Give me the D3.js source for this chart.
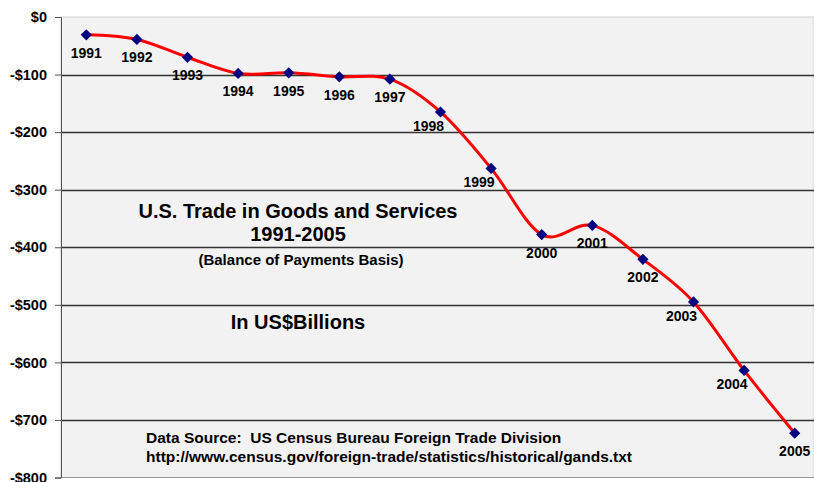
<!DOCTYPE html>
<html>
<head>
<meta charset="utf-8">
<script src="https://cdn.jsdelivr.net/npm/d3@7"></script>
<style>
  body { margin: 0; background: #fff; }
  svg { display: block; font-family: "Liberation Sans", Arial, sans-serif; font-weight: bold; }
</style>
</head>
<body>
<svg width="814" height="482"></svg>
<script>
const years = [1991, 1992, 1993, 1994, 1995, 1996, 1997, 1998, 1999, 2000, 2001, 2002, 2003, 2004, 2005]
const balance = [-31, -39, -70, -98, -97, -104, -108, -165, -263, -378, -362, -421, -495, -614, -723]
const yTicks = [0, -100, -200, -300, -400, -500, -600, -700, -800]
const titleLines = ["U.S. Trade in Goods and Services", "1991-2005"]
const subTitle = "(Balance of Payments Basis)"
const unitsText = "In US$Billions"
const sourceLines = ["Data Source:  US Census Bureau Foreign Trade Division",
  "http://www.census.gov/foreign-trade/statistics/historical/gands.txt"]

const data = years.map((y, i) => ({ year: y, value: balance[i] }))

const svg = d3.select("svg")
const plotLeft = 61, plotRight = 820, plotTop = 17, plotBottom = 477.5

const x = d3.scalePoint()
  .domain(years)
  .range([plotLeft, plotRight])
  .padding(0.5)

const y = d3.scaleLinear()
  .domain([-800, 0])
  .range([plotBottom, plotTop])

// plot area
svg.append("rect")
  .attr("x", plotLeft).attr("y", plotTop)
  .attr("width", 814 - plotLeft).attr("height", plotBottom - plotTop)
  .attr("fill", "#f2f2f2")
  .attr("stroke", "#cfcfcf")

// gridlines
svg.append("g")
  .selectAll("line")
  .data(yTicks.filter(d => d != 0 && d != -800))
  .enter()
  .append("line")
  .attr("x1", plotLeft).attr("x2", 814)
  .attr("y1", d => Math.round(y(d)) + 0.5)
  .attr("y2", d => Math.round(y(d)) + 0.5)
  .attr("stroke", "#333")
  .attr("stroke-width", 1.3)

svg.append("line")
  .attr("x1", plotLeft).attr("x2", 814)
  .attr("y1", plotBottom).attr("y2", plotBottom)
  .attr("stroke", "#999")

// y axis
const yAxis = d3.axisLeft(y)
  .tickValues(yTicks)
  .tickSize(6)
  .tickPadding(8)
  .tickFormat(d => d < 0 ? "-$" + Math.abs(d) : "$" + d)

const yg = svg.append("g")
  .attr("transform", `translate(${plotLeft},0)`)
  .call(yAxis)
yg.select(".domain").attr("stroke", "#555")
yg.selectAll(".tick line").attr("stroke", "#555")
yg.selectAll("text")
  .attr("fill", "#000")
  .style("font-size", "14.5px")
  .style("font-weight", "bold")
  .style("font-family", "'Liberation Sans', Arial, sans-serif")

// smoothed line
const line = d3.line()
  .x(d => x(d.year))
  .y(d => y(d.value))
  .curve(d3.curveCardinal.tension(0))

svg.append("path")
  .datum(data)
  .attr("d", line)
  .attr("fill", "none")
  .attr("stroke", "#ff0000")
  .attr("stroke-width", 3)

// diamond markers
svg.append("g")
  .selectAll("path")
  .data(data)
  .enter()
  .append("path")
  .attr("d", d3.symbol(d3.symbolDiamond2, 80))
  .attr("transform", d => `translate(${x(d.year)},${y(d.value)})`)
  .attr("fill", "#000080")

// year labels: below the marker, shifted left where the line drops steeply
svg.append("g")
  .selectAll("text")
  .data(data)
  .enter()
  .append("text")
  .attr("x", (d, i) => {
    const next = data[i + 1]
    return x(d.year) + (next && d.value - next.value > 90 ? -12 : 0)
  })
  .attr("y", (d, i) => {
    const next = data[i + 1]
    return y(d.value) + (next && d.value - next.value > 90 ? 19 : 23)
  })
  .attr("text-anchor", "middle")
  .style("font-size", "14px")
  .text(d => d.year)

// annotations
const notes = svg.append("g").attr("text-anchor", "middle")
notes.selectAll("text.title")
  .data(titleLines)
  .enter()
  .append("text")
  .attr("class", "title")
  .attr("x", 298)
  .attr("y", (d, i) => 218 + i * 23)
  .style("font-size", "20px")
  .text(d => d)

notes.append("text")
  .attr("x", 301).attr("y", 265)
  .style("font-size", "15px")
  .text(subTitle)

notes.append("text")
  .attr("x", 298).attr("y", 329)
  .style("font-size", "20px")
  .text(unitsText)

svg.append("g")
  .selectAll("text")
  .data(sourceLines)
  .enter()
  .append("text")
  .attr("x", 146)
  .attr("y", (d, i) => 442.5 + i * 19)
  .style("font-size", "15.5px")
  .style("white-space", "pre")
  .text(d => d)
</script>
</body>
</html>
